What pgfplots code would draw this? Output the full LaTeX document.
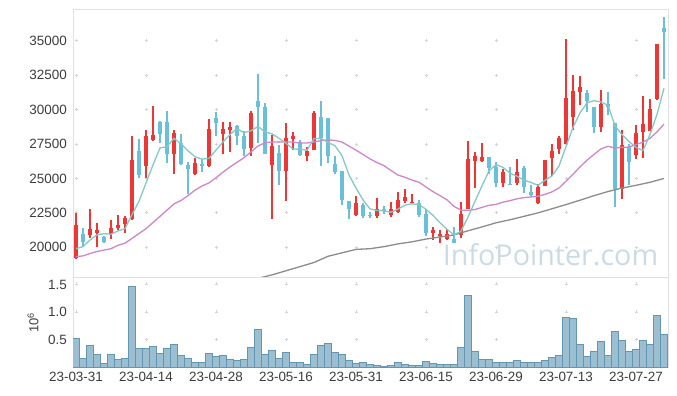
\documentclass[border=0pt]{standalone}
\usepackage{fontspec}
\setmainfont{Liberation Sans}
\newfontfamily\wmfont{Open Sans}
\usepackage{pgfplots}
\pgfplotsset{compat=1.18}
\usepackage{pgfplotstable}

\definecolor{upc}{RGB}{237,55,55}
\definecolor{dnc}{RGB}{106,192,216}
\definecolor{ma5c}{RGB}{135,200,192}
\definecolor{ma20c}{RGB}{205,135,200}
\definecolor{ma120c}{RGB}{140,140,140}
\definecolor{volfill}{RGB}{155,191,208}
\definecolor{voledge}{RGB}{100,150,178}
\definecolor{framec}{RGB}{224,224,224}
\definecolor{gridc}{RGB}{212,212,212}
\definecolor{labc}{RGB}{60,60,60}
\definecolor{wmc}{RGB}{202,219,229}

\pgfplotstableread{
i o h l c
0 19200 22500 19150 21600
2 20900 22750 20700 21300
3 21050 21750 20000 21250
5 21000 21950 20600 21400
6 21400 22350 21250 21600
7 21700 22250 21050 22100
8 22050 28100 22000 26350
10 25900 28500 25000 28050
11 27800 30250 27700 28150
14 26750 28550 25300 28300
17 25300 26500 25250 26100
19 25900 29300 25850 28600
21 28250 29100 26750 28600
22 28550 29100 26950 28750
25 27200 29900 26650 29750
28 26000 28150 22050 27350
30 25550 29000 23350 27900
31 27850 28350 27100 28100
33 26650 27300 26300 27000
34 27100 29900 27050 29750
40 22350 23750 22300 23250
43 22300 23600 22150 22800
45 22350 23300 22200 22750
46 22600 24050 22500 23450
47 23350 24200 23250 23650
48 23200 23900 23150 23300
51 21050 21500 20500 21250
52 20800 21250 20350 20950
53 20600 21300 20500 20950
55 20900 23300 20650 22400
56 22750 27750 22750 26400
57 26300 26900 24300 26650
58 26250 27550 26200 26550
61 24650 25650 24400 25450
63 24700 26400 24500 25450
66 23200 24600 23150 24400
67 24450 26350 24450 26350
68 26500 27500 25150 27000
69 27150 28050 26800 27950
70 27500 35100 27500 30850
71 29450 32500 28500 31350
72 31250 32450 30350 31650
75 28700 31450 28400 30400
78 24250 28550 23500 27400
80 26700 28900 26400 28300
81 28350 31000 26500 28950
82 28450 30750 28450 30050
83 30750 34750 30700 34750
}\upcandles

\pgfplotstableread{
i o h l c
1 21000 21400 20050 20400
4 20750 20850 20300 20400
9 27000 27850 25000 25250
12 29100 29200 27550 28250
13 29100 29900 26100 26800
15 27600 28250 25950 26050
16 25950 26200 23850 25650
18 26050 26400 25500 25900
20 29400 29850 28100 29050
23 28800 28850 27450 28050
24 28050 28450 26600 27150
26 30600 32600 27600 30150
27 30150 30500 26800 26800
29 26850 27400 24500 25550
32 27650 27790 26650 26700
35 29450 30600 25900 27950
36 29400 29400 26100 26650
37 26050 26600 25300 25500
38 25550 25550 23050 23400
39 23350 23350 22050 22750
41 23050 23200 22100 22300
42 22350 22550 22100 22250
44 22750 23000 22400 22650
49 23200 23400 22200 22350
50 22400 22750 20850 21050
54 20600 21500 20300 20300
59 26550 26550 25300 25750
60 25800 26200 24350 24650
62 24600 25800 24500 24500
64 25750 25900 23950 24350
65 24000 24500 23750 23800
73 31200 31400 29850 30650
74 30200 30200 28300 28700
76 30400 31250 29600 30150
77 29050 29050 22900 24250
79 27300 27500 24500 26200
84 35900 36700 32250 35650
}\dncandles

\pgfplotstableread{
i v
0 19900
1 20050
2 20530
3 20900
4 20990
5 20950
6 21190
7 21350
8 22370
9 23340
10 24670
11 25980
12 27210
13 27300
14 27910
15 27510
16 27010
17 26580
18 26400
19 26460
20 27060
21 27650
22 28180
23 28610
24 28320
25 28460
26 28770
27 28380
28 28240
29 27920
30 27550
31 27140
32 27120
33 27050
34 27890
35 27900
36 27610
37 27370
38 26650
39 25250
40 24310
41 23440
42 22790
43 22670
44 22650
45 22550
46 22780
47 23060
48 23160
49 23100
50 22760
51 22320
52 21780
53 21310
54 20900
55 21170
56 22200
57 23340
58 24460
59 25550
60 26000
61 25810
62 25380
63 25160
64 24880
65 24710
66 24500
67 24870
68 25180
69 25900
70 27310
71 28700
72 29760
73 30490
74 30640
75 30550
76 30310
77 28830
78 28180
79 27680
80 27260
81 27020
82 28180
83 29650
84 31540
}\mafive

\pgfplotstableread{
i v
0 19320
1 19380
2 19550
3 19700
4 19800
5 19900
6 20150
7 20300
8 20650
9 21000
10 21350
11 21800
12 22250
13 22700
14 23150
15 23400
16 23750
17 24150
18 24450
19 24675
20 25048
21 25458
22 25830
23 26170
24 26508
25 26925
26 27353
27 27588
28 27638
29 27653
30 27645
31 27643
32 27565
33 27575
34 27648
35 27743
36 27793
37 27763
38 27638
39 27345
40 27055
41 26740
42 26415
43 26153
44 25928
45 25578
46 25243
47 25085
48 24883
49 24723
50 24380
51 24038
52 23750
53 23448
54 22975
55 22698
56 22685
57 22743
58 22900
59 23050
60 23120
61 23278
62 23390
63 23523
64 23608
65 23660
66 23708
67 23843
68 24028
69 24308
70 24798
71 25303
72 25838
73 26323
74 26743
75 27143
76 27330
77 27210
78 27253
79 27275
80 27458
81 27633
82 27910
83 28375
84 28940
}\matwenty

\pgfplotstableread{
i v
24 17450
26 17750
28 18000
30 18300
32 18600
34 18900
36 19350
38 19600
40 19850
42 19900
44 20050
46 20250
48 20400
50 20600
52 20750
54 20900
56 21200
58 21480
60 21780
62 22000
64 22250
66 22500
68 22800
70 23100
72 23420
74 23750
76 24050
78 24300
80 24500
82 24720
84 25000
}\malong

\pgfplotstableread{
i v
0 0.52
1 0.16
2 0.40
3 0.23
4 0.07
5 0.23
6 0.14
7 0.16
8 1.46
9 0.34
10 0.34
11 0.38
12 0.25
13 0.34
14 0.41
15 0.22
16 0.16
17 0.09
18 0.09
19 0.25
20 0.20
21 0.22
22 0.14
23 0.13
24 0.14
25 0.36
26 0.68
27 0.23
28 0.31
29 0.16
30 0.27
31 0.09
32 0.09
33 0.05
34 0.23
35 0.40
36 0.43
37 0.27
38 0.23
39 0.13
40 0.07
41 0.09
42 0.05
43 0.04
44 0.02
45 0.04
46 0.09
47 0.05
48 0.04
49 0.04
50 0.11
51 0.07
52 0.05
53 0.05
54 0.05
55 0.36
56 1.30
57 0.29
58 0.14
59 0.14
60 0.09
61 0.09
62 0.09
63 0.13
64 0.09
65 0.09
66 0.09
67 0.13
68 0.18
69 0.22
70 0.90
71 0.88
72 0.41
73 0.20
74 0.29
75 0.47
76 0.22
77 0.65
78 0.49
79 0.29
80 0.32
81 0.49
82 0.41
83 0.94
84 0.59
}\vol

\pgfplotsset{
  common/.style={
    scale only axis, width=595bp, xmin=-0.4286, xmax=84.571,
    xtick={0,10,...,80}, major tick length=0,
    scaled y ticks=false, scaled x ticks=false,
    axis line style={draw=framec, line width=1bp},
    grid=major,
    y grid style={draw=gridc, line width=0.9bp, dash pattern=on 3bp off 67bp, dash phase=68.5bp},
    tick label style={font=\fontsize{13.5}{14}\selectfont, text=labc},
    yticklabel style={anchor=east, inner sep=0pt, xshift=-6bp},
    xticklabel style={anchor=north, inner sep=0pt, yshift=-4.4bp},
  }
}

\begin{document}
\begin{tikzpicture}
\useasboundingbox (0bp,0bp) rectangle (677bp,396bp);
\node[anchor=base, inner sep=0pt, text=wmc, font=\wmfont\fontsize{28.8}{30}\selectfont] at (550.5bp,130.3bp) {InfoPointer.com};

\begin{axis}[common,
  at={(73bp,118bp)}, anchor=south west, height=268bp,
  ymin=17774, ymax=37225,
  xticklabel=\empty,
  ytick={20000,22500,...,35000},
  yticklabels={20000,22500,25000,27500,30000,32500,35000},
  x grid style={draw=gridc, line width=0.9bp, dash pattern=on 3bp off 31.44bp, dash phase=5.27bp},
]
\addplot[draw=upc, line width=1.1bp, quiver={u value=0, v=\thisrow{h}-\thisrow{l}}] table[x=i, y=l] {\upcandles};
\addplot[draw=upc, line width=4.5bp, quiver={u value=0, v=\thisrow{c}-\thisrow{o}}] table[x=i, y=o] {\upcandles};
\addplot[draw=dnc, line width=1.1bp, quiver={u value=0, v=\thisrow{h}-\thisrow{l}}] table[x=i, y=l] {\dncandles};
\addplot[draw=dnc, line width=4.5bp, quiver={u value=0, v=\thisrow{c}-\thisrow{o}}] table[x=i, y=o] {\dncandles};
\addplot[draw=ma120c, line width=1.3bp] table[x=i, y=v] {\malong};
\addplot[draw=ma20c, line width=1.3bp] table[x=i, y=v] {\matwenty};
\addplot[draw=ma5c, line width=1.3bp] table[x=i, y=v] {\mafive};
\end{axis}

\begin{axis}[common,
  at={(73bp,28.7bp)}, anchor=south west, height=89.3bp,
  ymin=0, ymax=1.621,
  xticklabels={23-03-31,23-04-14,23-04-28,23-05-16,23-05-31,23-06-15,23-06-29,23-07-13,23-07-27},
  ytick={0.5,1,1.5}, yticklabels={0.5,1.0,1.5},
  x grid style={draw=gridc, line width=0.9bp, dash pattern=on 3bp off 24.77bp, dash phase=1.5bp},
  ylabel={10\textsuperscript{6}},
  ylabel style={at={(axis description cs:-0.0672,0.5)}, anchor=center, font=\fontsize{13}{14}\selectfont, text=labc},
]
\addplot[ybar, bar width=1, fill=volfill, draw=voledge, line width=0.8bp] table[x=i, y=v] {\vol};
\end{axis}
\end{tikzpicture}
\end{document}
